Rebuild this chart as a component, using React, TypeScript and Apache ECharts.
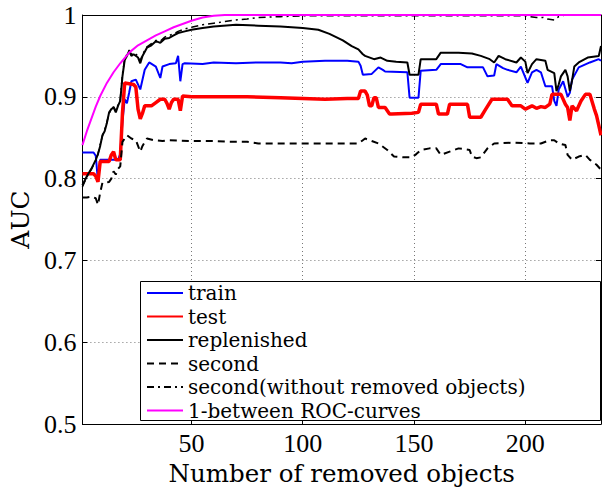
import React, { useEffect, useRef } from "react";
import * as echarts from "echarts";

// ---------- data ----------
const xTicks = [50, 100, 150, 200];

const trainX = [1, 6, 7, 8, 9, 17, 18, 19, 20, 21, 22, 23, 25, 27, 29, 31, 34, 36, 37, 40, 43, 44, 45, 46, 47, 55, 60, 70, 80, 90, 95, 100, 110, 120, 125, 126, 127, 131, 134, 136, 137, 147, 148, 152, 153, 160, 162, 171, 174, 181, 183, 186, 187, 190, 192, 196, 198, 201, 203, 205, 207, 209, 212, 213, 214, 215, 217, 219, 220, 221, 224, 229, 233, 234];
const trainY = [0.832, 0.832, 0.828, 0.797, 0.823, 0.823, 0.83, 0.87, 0.897, 0.892, 0.905, 0.919, 0.921, 0.909, 0.933, 0.942, 0.937, 0.923, 0.937, 0.94, 0.941, 0.95, 0.919, 0.94, 0.941, 0.94, 0.942, 0.941, 0.942, 0.942, 0.941, 0.943, 0.944, 0.944, 0.943, 0.938, 0.927, 0.928, 0.936, 0.933, 0.931, 0.93, 0.899, 0.899, 0.932, 0.933, 0.94, 0.94, 0.936, 0.936, 0.925, 0.926, 0.94, 0.935, 0.933, 0.93, 0.937, 0.917, 0.93, 0.933, 0.93, 0.913, 0.913, 0.895, 0.889, 0.909, 0.919, 0.9, 0.905, 0.921, 0.936, 0.942, 0.946, 0.944];

const testX = [1, 6, 7, 8, 9, 13, 14, 15, 16, 18, 19, 20, 24, 25, 26, 27, 28, 29, 32, 34, 36, 38, 39, 40, 41, 42, 44, 45, 46, 50, 60, 75, 90, 100, 110, 120, 125, 126, 128, 129, 130, 131, 132, 133, 134, 137, 139, 140, 149, 152, 153, 160, 161, 165, 166, 174, 175, 180, 182, 185, 192, 194, 198, 200, 203, 205, 207, 209, 211, 212, 216, 218, 219, 220, 221, 223, 225, 227, 229, 231, 232, 233, 234];
const testY = [0.806, 0.806, 0.803, 0.796, 0.821, 0.821, 0.829, 0.833, 0.823, 0.823, 0.88, 0.917, 0.915, 0.912, 0.885, 0.873, 0.88, 0.889, 0.889, 0.893, 0.897, 0.897, 0.892, 0.885, 0.893, 0.897, 0.897, 0.883, 0.901, 0.9, 0.9, 0.9, 0.899, 0.898, 0.897, 0.898, 0.898, 0.907, 0.907, 0.902, 0.889, 0.889, 0.899, 0.899, 0.887, 0.887, 0.879, 0.879, 0.88, 0.881, 0.891, 0.891, 0.879, 0.879, 0.891, 0.891, 0.875, 0.875, 0.884, 0.897, 0.897, 0.889, 0.889, 0.885, 0.889, 0.886, 0.888, 0.887, 0.891, 0.903, 0.903, 0.891, 0.887, 0.871, 0.889, 0.883, 0.895, 0.903, 0.903, 0.885, 0.877, 0.865, 0.853];

const replX = [1, 3, 5, 7, 8, 9, 10, 11, 12, 13, 14, 15, 16, 17, 18, 19, 20, 21, 22, 23, 24, 26, 27, 28, 30, 32, 34, 36, 38, 40, 42, 44, 47, 50, 55, 60, 70, 80, 90, 100, 107, 112, 115, 118, 122, 125, 127, 128, 132, 135, 138, 142, 147, 148, 152, 153, 160, 162, 170, 176, 180, 184, 186, 188, 191, 196, 198, 200, 201, 203, 205, 207, 209, 210, 213, 214, 215, 216, 218, 219, 220, 221, 222, 224, 228, 233, 234];
const replY = [0.792, 0.803, 0.812, 0.823, 0.83, 0.84, 0.853, 0.858, 0.868, 0.881, 0.885, 0.887, 0.881, 0.889, 0.895, 0.925, 0.945, 0.95, 0.956, 0.95, 0.952, 0.948, 0.941, 0.95, 0.96, 0.963, 0.968, 0.966, 0.971, 0.972, 0.975, 0.978, 0.98, 0.982, 0.984, 0.986, 0.988, 0.987, 0.986, 0.984, 0.982, 0.977, 0.973, 0.969, 0.962, 0.958, 0.952, 0.95, 0.946, 0.948, 0.944, 0.943, 0.942, 0.927, 0.927, 0.946, 0.946, 0.954, 0.954, 0.953, 0.95, 0.946, 0.942, 0.95, 0.946, 0.942, 0.948, 0.943, 0.929, 0.94, 0.946, 0.945, 0.944, 0.933, 0.929, 0.907, 0.915, 0.925, 0.933, 0.925, 0.907, 0.92, 0.937, 0.942, 0.948, 0.95, 0.962];

const secondX = [1, 3, 5, 7, 8, 9, 10, 13, 14, 15, 16, 17, 18, 19, 21, 23, 25, 26, 27, 28, 30, 33, 37, 40, 50, 60, 67, 75, 80, 100, 125, 127, 128, 131, 134, 138, 141, 145, 149, 151, 153, 157, 160, 162, 166, 170, 175, 176, 178, 180, 183, 186, 195, 202, 207, 211, 213, 215, 218, 219, 221, 224, 227, 229, 232, 234];
const secondY = [0.777, 0.777, 0.778, 0.776, 0.768, 0.783, 0.795, 0.796, 0.8, 0.809, 0.805, 0.812, 0.815, 0.845, 0.853, 0.849, 0.847, 0.84, 0.833, 0.84, 0.849, 0.847, 0.846, 0.847, 0.846, 0.846, 0.845, 0.845, 0.843, 0.843, 0.843, 0.847, 0.849, 0.846, 0.843, 0.835, 0.827, 0.826, 0.826, 0.83, 0.835, 0.837, 0.837, 0.829, 0.833, 0.837, 0.835, 0.827, 0.825, 0.826, 0.837, 0.843, 0.844, 0.843, 0.843, 0.847, 0.847, 0.843, 0.841, 0.829, 0.823, 0.827, 0.829, 0.823, 0.817, 0.811];

const secondWoX = [1, 3, 5, 7, 8, 9, 10, 11, 12, 13, 14, 15, 16, 17, 18, 19, 20, 21, 22, 23, 24, 26, 27, 28, 30, 32, 34, 36, 38, 40, 42, 44, 47, 50, 55, 60, 65, 70, 75, 80, 90, 100, 150, 200, 202, 205, 208, 210, 213, 215, 218, 234];
const secondWoY = [0.79, 0.802, 0.811, 0.822, 0.83, 0.842, 0.852, 0.86, 0.869, 0.88, 0.884, 0.888, 0.883, 0.89, 0.897, 0.928, 0.946, 0.952, 0.957, 0.952, 0.954, 0.95, 0.944, 0.952, 0.961, 0.965, 0.969, 0.968, 0.973, 0.975, 0.977, 0.98, 0.983, 0.985, 0.988, 0.99, 0.992, 0.994, 0.995, 0.997, 0.998, 0.999, 0.999, 0.999, 0.998, 0.997, 0.997, 0.995, 0.994, 0.998, 1.0, 1.0];

const rocX = [1, 3, 5, 7, 9, 12, 15, 18, 22, 26, 30, 34, 38, 42, 46, 50, 55, 60, 65, 234];
const rocY = [0.841, 0.858, 0.873, 0.888, 0.901, 0.917, 0.93, 0.941, 0.954, 0.963, 0.969, 0.975, 0.98, 0.985, 0.989, 0.993, 0.997, 0.999, 1.0, 1.0];

const legendNames = [
  "train",
  "test",
  "replenished",
  "second",
  "second(without removed objects)",
  "1-between ROC-curves",
];
const legendRowCenters = [292, 315.5, 339, 362.5, 386, 409.5];

const pairs = (xs: number[], ys: number[]) => xs.map((x, i) => [x, ys[i]]);

export default function App() {
  const ref = useRef<HTMLDivElement>(null);

  useEffect(() => {
    if (!ref.current) return;
    const chart = echarts.init(ref.current, null, { renderer: "svg" });

    const tickFont = { fontFamily: "Liberation Serif", fontSize: 26, color: "#000" };
    const nameFont = { fontFamily: "DejaVu Serif", fontSize: 24.5, color: "#000" };

    const mkSeries = (
      name: string,
      xs: number[],
      ys: number[],
      color: string,
      width: number,
      type: any
    ) => ({
      name,
      type: "line",
      symbol: "none",
      data: pairs(xs, ys),
      itemStyle: { color },
      lineStyle: { color, width, type },
      emphasis: { disabled: true },
      z: 2,
    });

    const option: any = {
      animation: false,
      backgroundColor: "#fff",
      grid: { left: 78, right: 1, top: 15, bottom: 64, containLabel: false },
      xAxis: [
        {
          type: "value",
          min: 1,
          max: 234,
          name: "Number of removed objects",
          nameLocation: "middle",
          nameGap: 35,
          nameTextStyle: nameFont,
          axisLine: { show: true, onZero: false, lineStyle: { color: "#000", width: 1 } },
          axisTick: { show: true, inside: true, length: 5, customValues: xTicks, lineStyle: { color: "#000" } },
          axisLabel: { ...tickFont, margin: 6, customValues: xTicks },
          splitLine: { show: true, lineStyle: { color: "#777", width: 1, type: [1, 3] } },
        },
        {
          type: "value",
          min: 1,
          max: 234,
          position: "top",
          axisLine: { show: true, onZero: false, lineStyle: { color: "#000", width: 1 } },
          axisTick: { show: true, inside: true, length: 5, customValues: xTicks, lineStyle: { color: "#000" } },
          axisLabel: { show: false },
          splitLine: { show: false },
        },
      ],
      yAxis: [
        {
          type: "value",
          min: 0.5,
          max: 1,
          interval: 0.1,
          name: "AUC",
          nameLocation: "middle",
          nameGap: 42,
          nameRotate: 90,
          nameTextStyle: { ...nameFont, fontSize: 25 },
          axisLine: { show: true, onZero: false, lineStyle: { color: "#000", width: 1 } },
          axisTick: { show: true, inside: true, length: 5, lineStyle: { color: "#000" } },
          axisLabel: {
            ...tickFont,
            margin: 6,
            formatter: (v: number) => String(Math.round(v * 10) / 10),
          },
          splitLine: { show: true, lineStyle: { color: "#777", width: 1, type: [1, 3] } },
        },
        {
          type: "value",
          min: 0.5,
          max: 1,
          interval: 0.1,
          position: "right",
          axisLine: { show: true, onZero: false, lineStyle: { color: "#000", width: 1 } },
          axisTick: { show: true, inside: true, length: 5, lineStyle: { color: "#000" } },
          axisLabel: { show: false },
          splitLine: { show: false },
        },
      ],
      legend: legendNames.map((n, i) => ({
        data: [n],
        left: 146,
        top: legendRowCenters[i] - 9,
        orient: "vertical",
        padding: 0,
        itemWidth: 36,
        itemHeight: 18,
        selectedMode: false,
        z: 5,
        itemStyle: { opacity: 0, borderWidth: 0 },
        textStyle: { fontFamily: "DejaVu Serif", fontSize: 20, color: "#000", lineHeight: 18 },
      })),
      graphic: [
        {
          type: "rect",
          z: 3,
          shape: { x: 140.5, y: 281.5, width: 460, height: 139 },
          style: { fill: "#fff", stroke: "#000", lineWidth: 1 },
          silent: true,
        },
      ],
      series: [
        mkSeries(legendNames[0], trainX, trainY, "#0000ff", 2, "solid"),
        mkSeries(legendNames[1], testX, testY, "#ff0000", 3.5, "solid"),
        mkSeries(legendNames[2], replX, replY, "#000000", 2, "solid"),
        mkSeries(legendNames[3], secondX, secondY, "#000000", 2, [7, 5]),
        mkSeries(legendNames[4], secondWoX, secondWoY, "#000000", 1.5, [7, 4, 2, 4]),
        mkSeries(legendNames[5], rocX, rocY, "#ff00ff", 2, "solid"),
      ],
    };

    chart.setOption(option);
    return () => chart.dispose();
  }, []);

  return (
    <div
      ref={ref}
      style={{ position: "fixed", left: 0, top: 0, width: 602, height: 491, background: "#fff" }}
    />
  );
}
